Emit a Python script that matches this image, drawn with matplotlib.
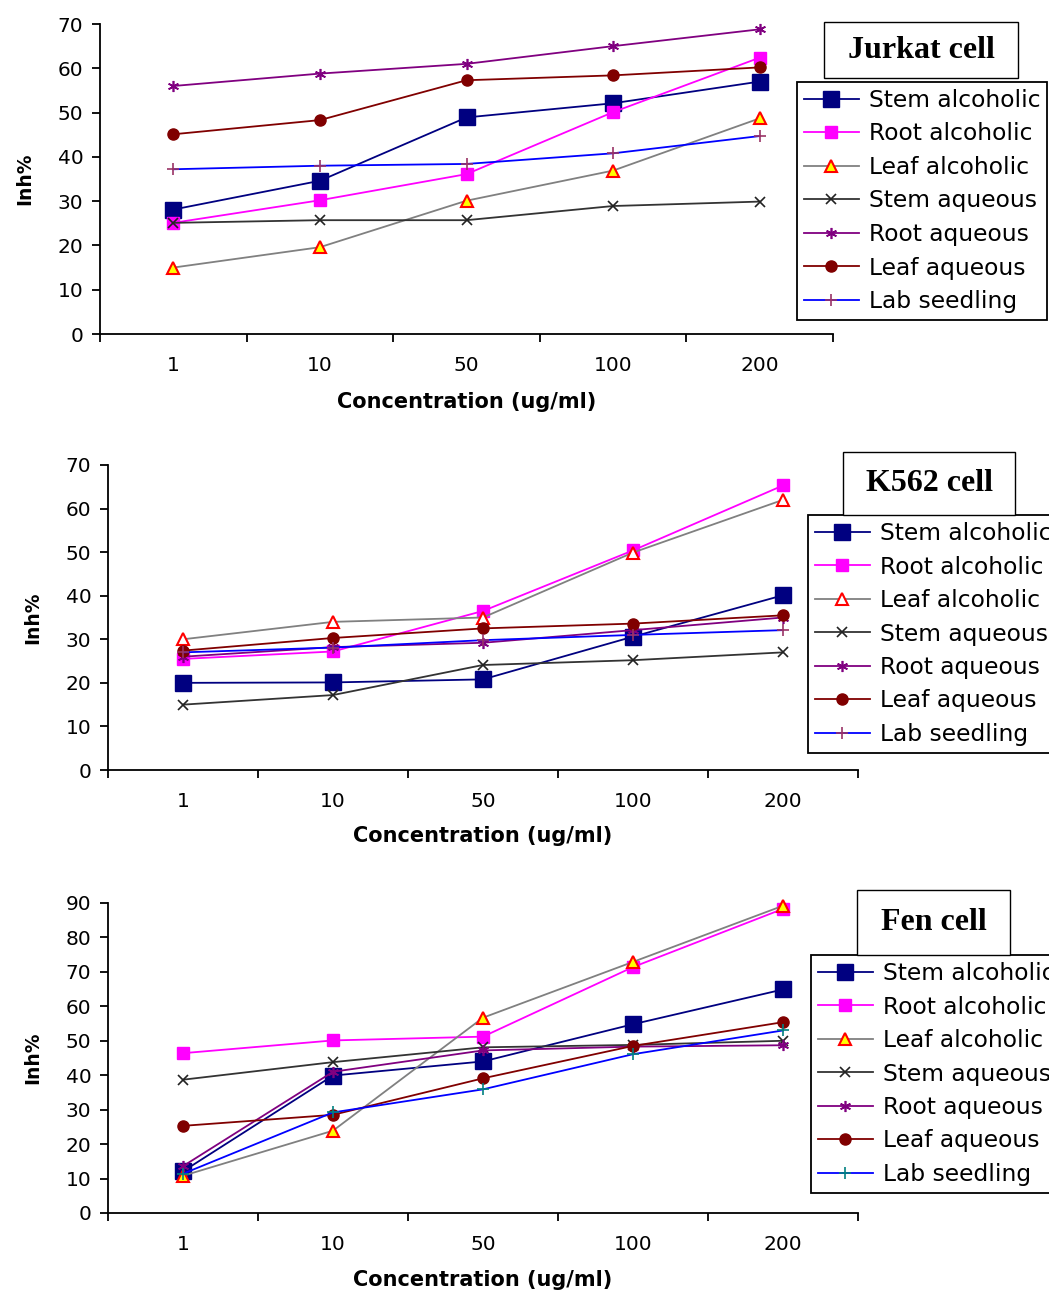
import matplotlib
matplotlib.use("Agg")
import matplotlib.pyplot as plt
from matplotlib.patches import Rectangle

# ---------------- data ----------------
concentrations = ["1", "10", "50", "100", "200"]
series_names = ["Stem alcoholic", "Root alcoholic", "Leaf alcoholic", "Stem aqueous",
                "Root aqueous", "Leaf aqueous", "Lab seedling"]

jurkat_stem_alc = [28.1, 34.6, 48.9, 52.1, 57.0]
jurkat_root_alc = [25.1, 30.2, 36.1, 50.1, 62.4]
jurkat_leaf_alc = [15.0, 19.6, 30.1, 36.9, 48.7]
jurkat_stem_aq = [25.1, 25.7, 25.7, 28.9, 29.9]
jurkat_root_aq = [56.0, 58.8, 61.0, 65.0, 68.8]
jurkat_leaf_aq = [45.1, 48.3, 57.3, 58.4, 60.2]
jurkat_lab = [37.2, 38.0, 38.4, 40.8, 44.7]

k562_stem_alc = [20.0, 20.1, 20.8, 30.6, 40.1]
k562_root_alc = [25.5, 27.2, 36.5, 50.4, 65.3]
k562_leaf_alc = [30.0, 34.0, 35.0, 49.9, 62.0]
k562_stem_aq = [15.0, 17.2, 24.1, 25.2, 27.0]
k562_root_aq = [26.0, 28.2, 29.2, 32.1, 35.0]
k562_leaf_aq = [27.4, 30.3, 32.5, 33.6, 35.5]
k562_lab = [27.0, 28.1, 29.8, 31.0, 32.1]

fen_stem_alc = [12.1, 39.9, 44.0, 54.8, 64.9]
fen_root_alc = [46.4, 50.1, 51.2, 71.4, 88.3]
fen_leaf_alc = [10.8, 23.9, 56.7, 72.9, 89.2]
fen_stem_aq = [38.7, 43.8, 48.1, 48.8, 50.0]
fen_root_aq = [13.6, 41.0, 47.2, 48.3, 48.7]
fen_leaf_aq = [25.3, 28.5, 39.1, 48.5, 55.4]
fen_lab = [11.4, 29.2, 35.9, 46.1, 53.0]

panel_titles = ["Jurkat cell", "K562 cell", "Fen cell"]
y_max = [70, 70, 90]
x_label = "Concentration (ug/ml)"
y_label = "Inh%"

panels_data = [
    [jurkat_stem_alc, jurkat_root_alc, jurkat_leaf_alc, jurkat_stem_aq, jurkat_root_aq, jurkat_leaf_aq, jurkat_lab],
    [k562_stem_alc, k562_root_alc, k562_leaf_alc, k562_stem_aq, k562_root_aq, k562_leaf_aq, k562_lab],
    [fen_stem_alc, fen_root_alc, fen_leaf_alc, fen_stem_aq, fen_root_aq, fen_leaf_aq, fen_lab],
]

# ---------------- styling ----------------
W, H = 1049, 1293
DPI = 100
fig = plt.figure(figsize=(W / DPI, H / DPI), dpi=DPI)
fig.patch.set_facecolor("white")
plt.rcParams["font.family"] = ["DejaVu Sans"]


def fx(px):
    return px / W


def fy(py):
    return 1 - py / H


# axes rectangles in pixels: left, top, right, bottom
axes_px = [(100, 24, 833, 334), (108, 465, 858, 770), (108, 903, 858, 1213)]
title_box_px = [(824, 22, 1018, 78), (843, 452, 1015, 515), (857, 890, 1010, 955)]
legend_anchor_px = [(797, 82), (808, 515), (811, 955)]
xlabel_y_px = [402, 836, 1280]
ylabel_x_px = [25, 33, 33]

lab_marker_colors = ["#993366", "#993366", "#008080"]
tri_face = ["#FFFF00", "#FFFFFF", "#FFFF00"]

for p in range(3):
    l, t, r, b = axes_px[p]
    ax = fig.add_axes([fx(l), fy(b), fx(r - l), (b - t) / H])
    vals = panels_data[p]
    xs = [i + 0.5 for i in range(len(concentrations))]

    styles = [
        dict(color="#000080", marker="s", ms=11.5, mfc="#000080", mec="#000080", lw=1.3),
        dict(color="#FF00FF", marker="s", ms=8, mfc="#FF00FF", mec="#FF00FF", lw=1.3),
        dict(color="#808080", marker="^", ms=9, mfc=tri_face[p], mec="#FF0000", mew=1.5, lw=1.3),
        dict(color="#333333", marker="x", ms=7, mfc="none", mec="#222222", mew=1.2, lw=1.3),
        dict(color="#800080", marker=(6, 2, 0), ms=8, mec="#800080", mew=1.2, lw=1.3),
        dict(color="#800000", marker="o", ms=8, mfc="#800000", mec="#800000", lw=1.3),
        dict(color="#0000FF", marker="+", ms=8, mec=lab_marker_colors[p], mew=1.2, lw=1.3),
    ]

    for name, v, st in zip(series_names, vals, styles):
        ax.plot(xs, v, label=name, **st, clip_on=False)

    ax.set_xlim(0, len(concentrations))
    ax.set_ylim(0, y_max[p])
    ax.set_yticks(range(0, y_max[p] + 1, 10))
    ax.set_xticks(range(0, len(concentrations) + 1))
    ax.set_xticklabels([])
    ax.set_xticks(xs, minor=True)
    ax.set_xticklabels(concentrations, minor=True)
    ax.tick_params(axis="x", which="minor", length=0, pad=16, labelsize=14.5)
    ax.tick_params(axis="x", which="major", length=6, width=1.3, direction="out")
    ax.tick_params(axis="y", length=6, width=1.3, direction="out", pad=6, labelsize=14.5)
    for s in ["top", "right"]:
        ax.spines[s].set_visible(False)
    for s in ["left", "bottom"]:
        ax.spines[s].set_linewidth(1.3)
    ax.patch.set_alpha(0)

    # axis labels
    fig.text(fx((l + r) / 2), fy(xlabel_y_px[p]), x_label, ha="center", va="center",
             fontsize=15, fontweight="bold")
    fig.text(fx(ylabel_x_px[p]), fy((t + b) / 2), y_label, ha="center", va="center",
             rotation=90, fontsize=13.5, fontweight="bold")

    # title box
    bx0, by0, bx1, by1 = title_box_px[p]
    fig.patches.append(Rectangle((fx(bx0), fy(by1)), fx(bx1 - bx0), (by1 - by0) / H,
                                 transform=fig.transFigure, facecolor="white",
                                 edgecolor="black", lw=1.0, zorder=5))
    fig.text(fx((bx0 + bx1) / 2), fy((by0 + by1) / 2), panel_titles[p], ha="center",
             va="center", fontsize=23, fontweight="bold", family="Liberation Serif", zorder=6)

    # legend
    lx, ly = legend_anchor_px[p]
    leg = ax.legend(loc="upper left", bbox_to_anchor=(fx(lx), fy(ly)),
                    bbox_transform=fig.transFigure, borderaxespad=0, frameon=True,
                    fancybox=False, framealpha=1, edgecolor="black", fontsize=16.8,
                    numpoints=1, handlelength=2.35, handletextpad=0.42,
                    labelspacing=0.45, borderpad=0.3)
    leg.get_frame().set_linewidth(1.3)

fig.savefig("out.png", dpi=DPI)
